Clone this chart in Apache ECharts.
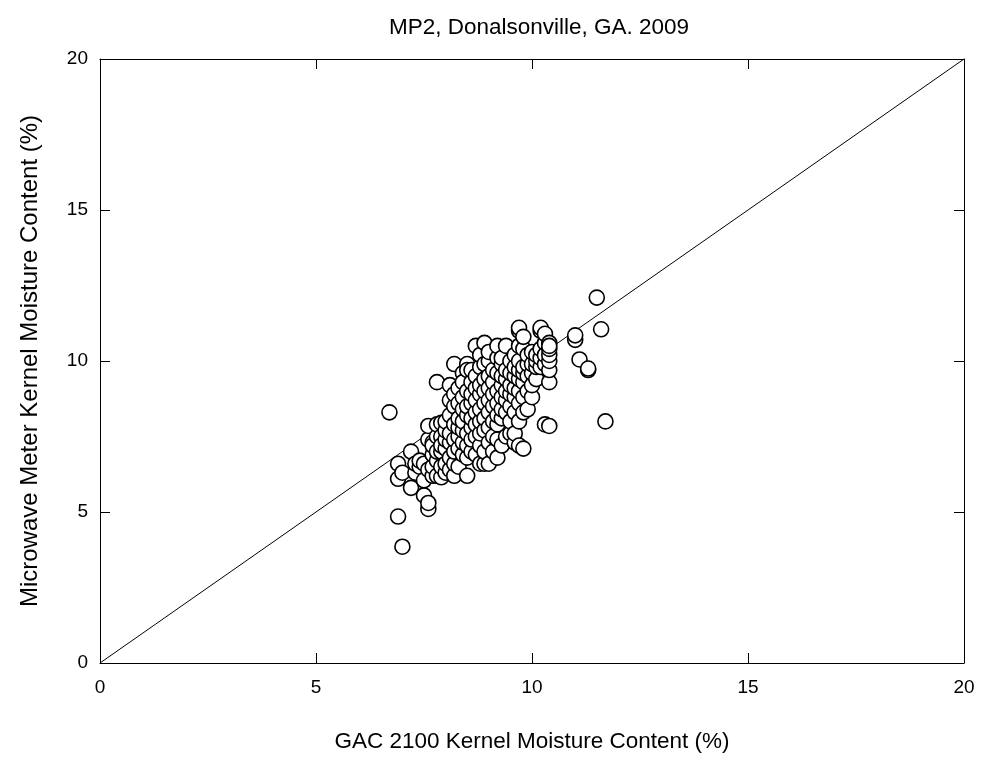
<!DOCTYPE html>
<html>
<head>
<meta charset="utf-8">
<script src="https://cdn.jsdelivr.net/npm/echarts@6/dist/echarts.min.js"></script>
<style>html,body{margin:0;padding:0;background:#fff}#c{width:983px;height:761px}</style>
</head>
<body>
<div id="c"></div>
<script>
const title = "MP2, Donalsonville, GA. 2009";
const xLabel = "GAC 2100 Kernel Moisture Content (%)";
const yLabel = "Microwave Meter Kernel Moisture Content (%)";
const axisTicks = [0, 5, 10, 15, 20];
const lineX = [0, 20];
const lineY = [0, 20];
// GAC readings (x) grouped; each entry of microwaveValues lists the readings at that GAC value
const gacValues = [6.7, 6.9, 7.0, 7.2, 7.3, 7.4, 7.5, 7.6, 7.7, 7.8, 7.9, 8.0, 8.1, 8.2, 8.3, 8.4, 8.5, 8.6, 8.7, 8.8, 8.9, 9.0, 9.1, 9.2, 9.3, 9.4, 9.5, 9.6, 9.7, 9.8, 9.9, 10.0, 10.1, 10.2, 10.3, 10.4, 11.0, 11.1, 11.3, 11.5, 11.6, 11.7];
const microwaveValues = [
  [8.3],
  [6.6, 6.1, 4.85],
  [6.3, 3.85],
  [7.0, 5.8],
  [6.3, 6.6],
  [6.5, 6.7],
  [5.55, 6.05, 6.6],
  [5.1, 5.3, 6.4, 7.4, 7.85],
  [6.2, 6.5, 6.9, 7.3, 7.2],
  [9.3, 6.2, 6.7, 7.0, 7.5, 7.9],
  [6.15, 6.5, 7.0, 7.5, 7.95, 7.2],
  [6.3, 6.6, 7.1, 7.4, 7.7, 8.0],
  [6.4, 6.8, 7.3, 7.6, 8.2, 8.7, 9.2],
  [6.2, 6.6, 7.0, 7.4, 7.9, 8.5, 9.9, 8.9],
  [6.5, 7.1, 7.5, 7.8, 8.1, 8.6, 9.1],
  [6.9, 7.3, 7.7, 8.0, 8.4, 8.8, 9.6, 9.3],
  [6.2, 6.8, 7.2, 7.6, 8.2, 8.5, 9.0, 9.9, 9.7],
  [7.0, 7.4, 7.8, 8.1, 8.6, 8.9, 9.3, 9.7],
  [6.9, 7.5, 7.9, 8.3, 8.7, 9.1, 9.5, 10.5],
  [6.6, 7.2, 7.6, 8.0, 8.4, 8.9, 9.2, 9.8, 10.2],
  [6.6, 7.0, 7.7, 8.1, 8.6, 9.0, 9.4, 9.9, 10.6],
  [6.6, 7.3, 7.8, 8.3, 8.7, 9.1, 9.5, 10.0, 10.3],
  [7.0, 7.5, 8.0, 8.5, 8.9, 9.3, 9.7],
  [6.8, 7.4, 7.9, 8.2, 8.6, 9.0, 9.6, 10.1, 10.5],
  [7.2, 8.1, 8.4, 8.8, 9.2, 9.5, 9.9, 10.1],
  [7.5, 8.3, 8.7, 9.0, 9.4, 9.7, 10.5],
  [7.6, 8.0, 8.5, 8.9, 9.2, 9.6, 10.0],
  [7.3, 7.6, 8.3, 8.8, 9.1, 9.5, 9.8, 10.2],
  [7.2, 8.0, 8.6, 9.0, 9.4, 9.7, 10.0, 10.5, 11.0, 11.1],
  [7.1, 8.3, 8.8, 9.3, 9.6, 9.8, 10.4, 10.8],
  [8.4, 9.0, 9.5, 9.9, 10.2],
  [8.8, 9.2, 9.6, 9.9, 10.3],
  [9.4, 9.8, 10.0, 10.2],
  [9.8, 10.1, 10.4, 11.0, 11.1],
  [7.9, 9.9, 10.2, 10.6, 10.9],
  [7.85, 9.3, 9.7, 10.0, 10.2, 10.4, 10.6, 10.5],
  [10.7, 10.85],
  [10.05],
  [9.7, 9.75],
  [12.1],
  [11.05],
  [8.0]
];

const points = [];
gacValues.forEach((x, i) => microwaveValues[i].forEach(y => points.push([x, y])));

const fontFam = 'Arial, "Liberation Sans", sans-serif';
const chart = echarts.init(document.getElementById('c'), null, {renderer: 'canvas'});
const baseAxis = {
  min: 0, max: 20, interval: 5,
  axisLine: {show: true, onZero: false, lineStyle: {color: '#000', width: 1}},
  axisTick: {show: true, inside: true, length: 10, lineStyle: {color: '#000', width: 1}},
  splitLine: {show: false},
  nameTextStyle: {color: '#000', fontSize: 23, fontFamily: fontFam},
  axisLabel: {color: '#000', fontSize: 19, fontFamily: fontFam, formatter: v => axisTicks.includes(v) ? String(v) : ''}
};
chart.setOption({
  animation: false,
  backgroundColor: '#fff',
  title: {text: title, left: 534, top: 11, textAlign: 'center',
    textStyle: {color: '#000', fontSize: 22.5, fontWeight: 'normal', fontFamily: fontFam}},
  grid: {left: 100, right: 19, top: 59, bottom: 98},
  xAxis: [
    Object.assign({}, baseAxis, {type: 'value', position: 'bottom', name: xLabel, nameLocation: 'middle', nameGap: 67,
      nameTextStyle: {color: '#000', fontSize: 22.5, fontFamily: fontFam},
      axisLabel: Object.assign({}, baseAxis.axisLabel, {margin: 15})}),
    Object.assign({}, baseAxis, {type: 'value', position: 'top', axisLabel: {show: false}})
  ],
  yAxis: [
    Object.assign({}, baseAxis, {type: 'value', position: 'left', name: yLabel, nameLocation: 'middle', nameGap: 58,
      nameTextStyle: {color: '#000', fontSize: 24, fontFamily: fontFam},
      axisLabel: Object.assign({}, baseAxis.axisLabel, {margin: 12})}),
    Object.assign({}, baseAxis, {type: 'value', position: 'right', axisLabel: {show: false}})
  ],
  series: [
    {type: 'line', data: lineX.map((x, i) => [x, lineY[i]]), symbol: 'none', z: 1,
      lineStyle: {color: '#000', width: 1}},
    {type: 'scatter', data: points, symbol: 'circle', symbolSize: 15, z: 2,
      itemStyle: {color: '#fff', borderColor: '#000', borderWidth: 1.6, opacity: 1}}
  ]
});
</script>
</body>
</html>
